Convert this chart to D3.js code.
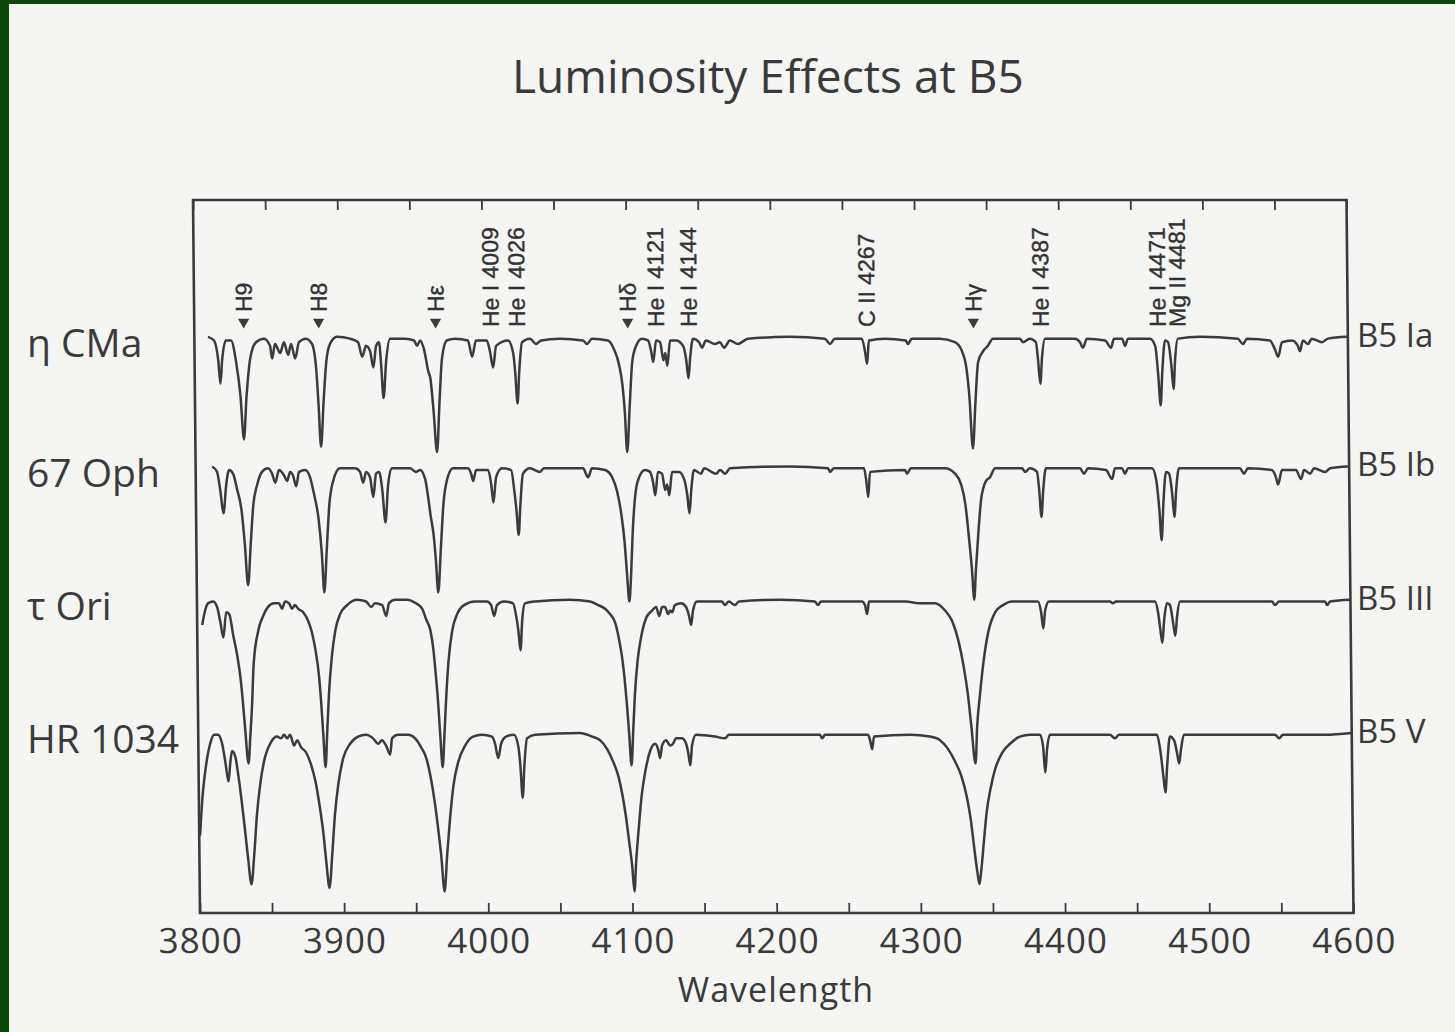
<!DOCTYPE html>
<html>
<head>
<meta charset="utf-8">
<script src="https://cdn.jsdelivr.net/npm/d3@7"></script>
<style>
  body { margin: 0; background: #0b4a0b; }
</style>
</head>
<body>
<div id="chart"></div>
<script>
// Luminosity Effects at B5 - four normalised spectra, stacked with offsets
// Each spectrum: [wavelength (A), intensity relative to continuum]

const stars = ["η CMa", "67 Oph", "τ Ori", "HR 1034"];
const classes = ["B5 Ia", "B5 Ib", "B5 III", "B5 V"];
const offsets = [2.2, 1.48, 0.74, 0];

const etaCMa = [
  [3809.4,1.00],[3813.6,0.98],[3816.4,0.87],[3817.8,0.74],[3819.1,0.87],[3821.9,0.98],[3825.4,0.98],
  [3828.8,0.86],[3831.6,0.67],[3833.7,0.43],[3835.8,0.67],[3838.6,0.88],[3842.7,0.97],[3848.3,0.99],
  [3852.4,0.95],[3853.8,0.88],[3855.9,0.96],[3859.4,0.91],[3862.1,0.97],[3864.9,0.90],[3867.0,0.96],
  [3869.8,0.88],[3872.5,0.97],[3877.4,0.99],[3881.6,0.96],[3884.3,0.82],[3885.7,0.62],[3887.1,0.39],
  [3889.2,0.64],[3891.3,0.86],[3894.0,0.96],[3898.9,1.00],[3907.9,0.99],[3913.5,0.97],[3916.3,0.89],
  [3919.0,0.95],[3921.8,0.92],[3923.9,0.83],[3926.0,0.95],[3928.0,0.97],[3929.4,0.84],[3930.8,0.66],
  [3932.9,0.87],[3935.7,0.99],[3946.1,0.99],[3952.3,0.98],[3954.4,0.95],[3956.5,0.98],[3959.2,0.93],
  [3962.0,0.81],[3963.4,0.77],[3965.4,0.59],[3967.5,0.36],[3969.6,0.64],[3971.6,0.88],[3975.1,0.98],
  [3980.7,0.99],[3989.7,0.98],[3992.5,0.89],[3995.3,0.98],[4002.8,0.98],[4004.9,0.92],[4007.0,0.83],
  [4009.2,0.95],[4017.5,0.98],[4021.0,0.91],[4022.3,0.80],[4023.7,0.63],[4025.1,0.81],[4027.2,0.97],
  [4032.7,0.99],[4036.9,0.96],[4040.4,0.98],[4053.5,0.99],[4069.5,0.98],[4072.3,0.96],[4075.7,0.99],
  [4086.8,0.98],[4091.0,0.93],[4094.5,0.84],[4096.6,0.73],[4098.0,0.59],[4099.4,0.36],[4101.5,0.62],
  [4103.5,0.86],[4106.3,0.95],[4110.4,0.99],[4114.6,0.98],[4116.7,0.92],[4118.1,0.86],[4120.2,0.98],
  [4123.0,0.97],[4125.1,0.87],[4126.5,0.91],[4127.8,0.84],[4129.9,0.98],[4134.1,0.98],[4138.9,0.95],
  [4141.0,0.87],[4142.4,0.77],[4143.8,0.89],[4145.8,0.99],[4150.0,0.97],[4152.0,0.94],[4154.8,0.98],
  [4161.0,0.96],[4164.5,0.97],[4167.3,0.94],[4171.4,0.98],[4177.0,0.96],[4183.9,0.99],[4213.0,1.00],
  [4237.3,0.99],[4240.8,0.96],[4244.2,0.99],[4262.9,0.99],[4265.0,0.92],[4266.4,0.85],[4267.8,0.98],
  [4278.9,0.99],[4293.4,0.98],[4294.8,0.96],[4297.6,0.99],[4317.0,0.99],[4327.4,0.97],[4332.3,0.92],
  [4335.0,0.84],[4337.1,0.67],[4339.2,0.38],[4341.3,0.64],[4343.4,0.86],[4346.9,0.92],[4350.3,0.95],
  [4353.8,0.99],[4372.5,0.99],[4374.6,0.97],[4379.4,0.99],[4383.6,0.97],[4385.0,0.87],[4386.4,0.74],
  [4387.8,0.89],[4389.9,0.99],[4410.7,0.99],[4414.2,0.97],[4416.2,0.94],[4419.0,0.99],[4431.6,0.98],
  [4435.7,0.94],[4437.8,0.99],[4443.4,0.99],[4445.4,0.95],[4447.5,0.99],[4462.8,0.99],[4466.3,0.95],
  [4468.3,0.78],[4469.7,0.62],[4471.1,0.81],[4473.2,0.98],[4475.3,0.97],[4477.4,0.84],[4478.8,0.71],
  [4480.0,0.87],[4482.1,0.99],[4497.4,1.00],[4523.7,0.99],[4527.2,0.96],[4530.0,0.99],[4545.9,0.98],
  [4549.4,0.93],[4551.5,0.89],[4554.3,0.97],[4561.2,0.98],[4565.3,0.95],[4566.7,0.92],[4568.8,0.98],
  [4572.3,0.96],[4575.0,0.99],[4582.0,0.97],[4586.1,0.99],[4599.3,1.00]
];

const oph67 = [
  [3811.4,1.00],[3814.8,0.97],[3816.9,0.87],[3819.0,0.74],[3821.1,0.90],[3823.2,0.98],[3825.9,0.96],
  [3828.7,0.87],[3831.5,0.76],[3833.6,0.57],[3835.6,0.34],[3837.7,0.57],[3839.8,0.79],[3842.6,0.90],
  [3846.0,0.97],[3850.2,0.99],[3853.0,0.96],[3855.1,0.91],[3857.8,0.98],[3861.3,0.95],[3863.4,0.92],
  [3865.5,0.97],[3867.5,0.95],[3869.6,0.89],[3871.7,0.97],[3875.9,0.98],[3879.3,0.94],[3882.1,0.84],
  [3884.9,0.71],[3887.0,0.51],[3888.4,0.30],[3890.4,0.54],[3892.5,0.79],[3895.3,0.92],[3900.1,0.99],
  [3910.5,0.99],[3914.0,0.97],[3916.1,0.91],[3918.2,0.97],[3920.9,0.94],[3923.0,0.83],[3925.1,0.96],
  [3927.2,0.97],[3929.3,0.87],[3931.3,0.69],[3933.4,0.90],[3936.2,0.99],[3948.7,0.99],[3952.8,0.97],
  [3955.6,0.98],[3959.1,0.93],[3961.2,0.82],[3962.6,0.73],[3964.6,0.62],[3966.0,0.48],[3967.4,0.30],
  [3969.5,0.54],[3971.6,0.79],[3974.4,0.93],[3978.5,0.99],[3988.9,0.99],[3991.0,0.96],[3992.4,0.92],
  [3994.5,0.98],[4002.8,0.98],[4004.9,0.90],[4006.3,0.80],[4008.3,0.94],[4012.5,0.99],[4018.8,0.98],
  [4020.8,0.87],[4022.2,0.76],[4023.6,0.62],[4025.0,0.79],[4027.0,0.96],[4031.9,0.99],[4038.8,0.97],
  [4041.6,0.99],[4068.7,0.99],[4072.1,0.94],[4074.9,0.99],[4083.9,0.98],[4088.8,0.94],[4092.2,0.86],
  [4095.0,0.73],[4097.1,0.57],[4098.5,0.40],[4099.9,0.25],[4101.3,0.40],[4102.6,0.62],[4104.7,0.84],
  [4107.5,0.94],[4111.7,0.98],[4115.1,0.97],[4117.2,0.91],[4118.6,0.84],[4120.6,0.97],[4123.4,0.96],
  [4125.5,0.87],[4126.9,0.90],[4128.3,0.84],[4130.4,0.97],[4135.2,0.97],[4138.7,0.93],[4140.8,0.84],
  [4142.2,0.74],[4143.6,0.87],[4145.6,0.98],[4150.5,0.96],[4152.6,0.99],[4160.9,0.96],[4163.7,0.98],
  [4167.2,0.96],[4170.6,0.99],[4212.2,1.00],[4238.5,0.99],[4240.0,0.97],[4242.7,0.99],[4263.5,0.99],
  [4264.9,0.93],[4266.3,0.83],[4267.7,0.97],[4292.0,0.98],[4293.3,0.96],[4296.1,0.99],[4319.7,0.99],
  [4326.6,0.96],[4330.8,0.90],[4333.6,0.79],[4335.7,0.62],[4337.7,0.43],[4339.1,0.26],[4340.5,0.43],
  [4342.6,0.65],[4344.6,0.82],[4348.1,0.92],[4350.9,0.94],[4354.4,0.99],[4373.1,0.99],[4375.2,0.97],
  [4378.6,0.99],[4383.5,0.97],[4384.9,0.87],[4386.3,0.72],[4387.7,0.87],[4389.7,0.99],[4413.3,0.99],
  [4416.1,0.96],[4418.9,0.99],[4431.4,0.98],[4435.5,0.93],[4437.6,0.99],[4442.5,0.99],[4444.5,0.96],
  [4446.6,0.99],[4463.3,0.99],[4466.0,0.93],[4468.1,0.76],[4469.5,0.59],[4470.9,0.79],[4473.0,0.97],
  [4475.1,0.96],[4477.2,0.84],[4478.5,0.72],[4479.9,0.87],[4482.0,0.99],[4524.3,0.99],[4527.0,0.96],
  [4529.8,0.99],[4546.4,0.98],[4549.2,0.94],[4550.6,0.90],[4553.4,0.98],[4563.1,0.98],[4566.6,0.93],
  [4568.7,0.98],[4572.9,0.96],[4575.7,0.99],[4583.3,0.97],[4586.8,0.99],[4599.3,1.00]
];

const tauOri = [
  [3803.5,0.86],[3805.6,0.94],[3807.7,0.98],[3811.2,0.99],[3813.9,0.96],[3816.0,0.88],[3818.1,0.79],
  [3820.2,0.93],[3822.3,0.92],[3825.0,0.80],[3827.8,0.68],[3829.9,0.55],[3831.3,0.42],[3832.7,0.27],
  [3834.7,0.09],[3836.1,0.24],[3837.5,0.41],[3838.9,0.64],[3842.4,0.83],[3845.8,0.91],[3849.3,0.96],
  [3853.5,0.98],[3856.9,0.98],[3859.0,0.95],[3861.1,0.99],[3863.9,0.98],[3865.9,0.95],[3868.0,0.97],
  [3870.1,0.95],[3873.6,0.93],[3877.1,0.88],[3879.8,0.81],[3881.9,0.72],[3884.0,0.59],[3885.4,0.44],
  [3886.8,0.24],[3888.1,0.07],[3889.5,0.27],[3890.9,0.47],[3893.0,0.67],[3895.8,0.83],[3899.2,0.92],
  [3904.1,0.97],[3911.1,1.00],[3917.3,0.99],[3920.8,0.96],[3923.5,0.98],[3928.4,0.97],[3931.2,0.91],
  [3933.2,0.98],[3937.4,1.00],[3945.7,1.00],[3951.9,0.98],[3956.1,0.95],[3958.9,0.89],[3961.7,0.83],
  [3963.7,0.72],[3965.1,0.59],[3966.5,0.44],[3967.9,0.24],[3969.3,0.07],[3970.7,0.24],[3972.1,0.44],
  [3974.1,0.66],[3976.9,0.83],[3980.4,0.92],[3985.2,0.97],[3992.9,0.99],[4001.2,0.99],[4004.0,0.97],
  [4006.0,0.91],[4008.1,0.97],[4012.9,0.99],[4019.2,0.98],[4021.3,0.91],[4022.7,0.83],[4024.1,0.72],
  [4025.4,0.88],[4027.5,0.98],[4034.5,0.99],[4058.7,1.00],[4072.6,0.99],[4078.2,0.97],[4083.0,0.95],
  [4086.5,0.92],[4090.0,0.87],[4092.7,0.77],[4094.8,0.66],[4096.2,0.55],[4097.6,0.41],[4099.0,0.24],
  [4100.3,0.08],[4101.7,0.27],[4103.1,0.47],[4105.2,0.66],[4108.0,0.80],[4111.5,0.90],[4115.6,0.94],
  [4118.4,0.96],[4120.5,0.91],[4122.6,0.96],[4124.6,0.96],[4126.7,0.92],[4128.1,0.94],[4129.5,0.93],
  [4131.5,0.97],[4135.7,0.98],[4139.2,0.96],[4141.2,0.91],[4142.6,0.86],[4144.0,0.94],[4146.8,0.99],
  [4164.1,0.99],[4166.2,0.97],[4168.9,0.99],[4173.1,0.97],[4175.9,0.99],[4204.3,1.00],[4228.6,0.99],
  [4230.7,0.97],[4232.8,0.99],[4261.2,0.99],[4263.3,0.97],[4264.7,0.92],[4266.1,0.99],[4291.1,0.99],
  [4302.2,0.98],[4311.9,0.98],[4318.8,0.94],[4323.7,0.88],[4327.9,0.77],[4331.3,0.63],[4334.1,0.47],
  [4336.2,0.30],[4338.9,0.09],[4340.3,0.30],[4342.4,0.47],[4345.2,0.66],[4348.6,0.82],[4353.5,0.93],
  [4359.0,0.97],[4365.3,0.99],[4383.3,0.99],[4385.4,0.93],[4386.8,0.84],[4388.2,0.94],[4390.9,0.99],
  [4433.2,0.99],[4435.3,0.98],[4437.4,0.99],[4464.4,0.99],[4466.5,0.93],[4467.9,0.84],[4469.3,0.76],
  [4470.6,0.88],[4472.7,0.98],[4474.8,0.97],[4476.9,0.87],[4478.3,0.80],[4479.7,0.91],[4481.8,0.99],
  [4506.1,0.99],[4545.6,0.99],[4547.7,0.97],[4550.5,0.99],[4582.4,0.99],[4583.8,0.97],[4585.9,0.99],
  [4599.8,1.00]
];

const hr1034 = [
  [3800.6,0.43],[3802.6,0.65],[3805.4,0.83],[3808.2,0.94],[3811.0,0.99],[3813.7,0.99],[3816.5,0.94],
  [3818.6,0.84],[3820.7,0.73],[3822.1,0.84],[3823.4,0.90],[3825.5,0.87],[3827.6,0.76],[3829.7,0.62],
  [3831.8,0.46],[3833.8,0.30],[3835.9,0.16],[3838.0,0.32],[3840.1,0.54],[3842.9,0.73],[3846.3,0.87],
  [3850.5,0.95],[3854.6,0.98],[3857.4,0.97],[3859.5,0.99],[3861.6,0.97],[3863.7,0.99],[3866.4,0.93],
  [3868.5,0.96],[3871.3,0.92],[3874.8,0.89],[3878.2,0.82],[3881.0,0.73],[3883.8,0.59],[3885.9,0.46],
  [3887.9,0.29],[3890.0,0.14],[3892.1,0.32],[3894.2,0.54],[3896.9,0.72],[3900.4,0.86],[3905.3,0.94],
  [3910.8,0.98],[3916.4,0.99],[3921.2,0.97],[3924.7,0.94],[3927.4,0.96],[3930.2,0.93],[3933.0,0.88],
  [3934.4,0.97],[3938.6,0.99],[3945.5,0.99],[3950.4,0.97],[3954.5,0.92],[3958.0,0.86],[3960.8,0.76],
  [3963.5,0.62],[3965.6,0.48],[3967.7,0.32],[3969.8,0.12],[3971.8,0.32],[3973.9,0.51],[3976.7,0.71],
  [3980.2,0.84],[3985.0,0.93],[3990.6,0.98],[3996.8,0.99],[4003.7,0.98],[4005.8,0.94],[4007.9,0.86],
  [4010.0,0.94],[4013.5,0.98],[4019.0,0.99],[4021.8,0.93],[4023.2,0.82],[4024.6,0.64],[4026.0,0.82],
  [4028.0,0.97],[4033.6,0.99],[4064.8,1.00],[4073.1,0.98],[4078.6,0.96],[4083.5,0.91],[4087.6,0.84],
  [4091.1,0.76],[4093.9,0.65],[4096.0,0.54],[4098.1,0.40],[4100.1,0.26],[4101.5,0.12],[4102.9,0.29],
  [4105.0,0.48],[4107.1,0.65],[4109.9,0.79],[4113.3,0.90],[4116.8,0.94],[4118.8,0.91],[4120.2,0.86],
  [4121.6,0.93],[4124.4,0.96],[4127.2,0.93],[4129.2,0.94],[4131.3,0.97],[4135.5,0.97],[4138.3,0.94],
  [4139.7,0.89],[4141.1,0.82],[4142.4,0.93],[4145.2,0.99],[4158.4,0.98],[4165.3,0.97],[4168.1,0.99],
  [4189.6,0.99],[4231.2,0.99],[4232.6,0.97],[4234.7,0.99],[4264.5,0.99],[4265.9,0.96],[4267.3,0.91],
  [4268.7,0.98],[4293.6,0.99],[4307.5,0.98],[4314.4,0.96],[4320.0,0.91],[4324.8,0.84],[4329.0,0.76],
  [4332.5,0.65],[4335.2,0.52],[4337.3,0.37],[4339.4,0.23],[4340.8,0.16],[4342.2,0.24],[4344.2,0.40],
  [4346.3,0.56],[4349.1,0.69],[4352.5,0.80],[4357.4,0.89],[4363.0,0.94],[4369.9,0.98],[4376.8,0.99],
  [4383.8,0.99],[4385.8,0.93],[4387.2,0.78],[4388.6,0.91],[4390.7,0.99],[4432.3,0.99],[4435.8,0.97],
  [4438.6,0.99],[4464.9,0.99],[4467.0,0.91],[4469.1,0.76],[4470.4,0.67],[4471.8,0.82],[4473.9,0.98],
  [4476.7,0.96],[4478.7,0.89],[4480.1,0.83],[4481.5,0.91],[4483.6,0.99],[4522.5,0.99],[4546.8,0.99],
  [4549.6,0.97],[4552.3,0.99],[4581.5,0.99],[4600.0,1.00]
];

const spectra = [etaCMa, oph67, tauOri, hr1034];

// spectral line identifications: label text, label wavelength, marked with arrow
const lineLabels = ["H9", "H8", "Hε", "He I 4009", "He I 4026", "Hδ", "He I 4121", "He I 4144",
                    "C II 4267", "Hγ", "He I 4387", "He I 4471", "Mg II 4481"];
const lineWavelengths = [3834.3, 3886.3, 3967.4, 4005.5, 4023.6, 4100.6, 4120.0, 4142.8,
                         4266.2, 4340.4, 4386.9, 4468.0, 4481.8];
const lineArrows = [true, true, true, false, false, true, false, false, false, true, false, false, false];

const tickValues = d3.range(3800, 4601, 50);

// Layout
const W = 1455, H = 1032;
const frame = { left: 196.5, right: 1350, top: 200, bottom: 913 };
const ink = "#3b3b3b";
const roundFont = "'Open Sans', 'Noto Sans', sans-serif";

const svg = d3.select("#chart").append("svg")
  .attr("width", W)
  .attr("height", H);

// scanned page look: green border + paper
svg.append("rect").attr("width", W).attr("height", H).attr("fill", "#0b4a0b");
svg.append("rect").attr("x", 9).attr("y", 4).attr("width", W - 9).attr("height", H - 4).attr("fill", "#f5f5f3");

const x = d3.scaleLinear().domain([3800, 4600]).range([frame.left, frame.right]);
const y = d3.scaleLinear().domain([0, 3.96]).range([frame.bottom, frame.top]);

// the scan is slightly sheared, so the plot block leans a little
const cy = (frame.top + frame.bottom) / 2;
const plot = svg.append("g")
  .attr("transform", `translate(0,${cy}) skewX(0.56) translate(0,${-cy})`);

// Frame
plot.append("rect")
  .attr("x", frame.left).attr("y", frame.top)
  .attr("width", frame.right - frame.left)
  .attr("height", frame.bottom - frame.top)
  .attr("fill", "none")
  .attr("stroke", ink)
  .attr("stroke-width", 2.6);

// Bottom axis with inward ticks
const xAxis = plot.append("g")
  .attr("transform", `translate(0,${frame.bottom})`)
  .call(d3.axisBottom(x).tickValues(tickValues).tickSize(-10).tickPadding(15)
    .tickFormat(d => d % 100 === 0 ? d : ""));
xAxis.select(".domain").remove();
xAxis.selectAll(".tick line").attr("stroke", ink).attr("stroke-width", 1.8);
xAxis.selectAll(".tick text")
  .attr("fill", "#3a3a3a")
  .style("font-family", roundFont)
  .style("font-size", "35px")
  .style("letter-spacing", "1px");

// Top axis, ticks only
const xTop = plot.append("g")
  .attr("transform", `translate(0,${frame.top})`)
  .call(d3.axisTop(x).tickValues(tickValues).tickSize(-10).tickFormat(""));
xTop.select(".domain").remove();
xTop.selectAll(".tick line").attr("stroke", ink).attr("stroke-width", 1.8);

// Spectra
const line = d3.line()
  .x(d => x(d[0]))
  .curve(d3.curveMonotoneX);

spectra.forEach((s, i) => {
  plot.append("path")
    .datum(s)
    .attr("fill", "none")
    .attr("stroke", ink)
    .attr("stroke-width", 2.5)
    .attr("stroke-linejoin", "round")
    .attr("d", line.y(d => y(d[1] + offsets[i])));
});

// Line identifications (rotated text, arrows for Balmer lines)
const labelBase = 327;
lineLabels.forEach((t, i) => {
  const lx = x(lineWavelengths[i]);
  let start = labelBase;
  if (lineArrows[i]) {
    plot.append("path")
      .attr("d", d3.symbol(d3.symbolTriangle, 55)())
      .attr("transform", `translate(${lx},${labelBase - 5}) rotate(180)`)
      .attr("fill", ink);
    start = labelBase - 15;
  }
  plot.append("text")
    .attr("transform", `translate(${lx},${start}) rotate(-90)`)
    .attr("dy", "0.36em")
    .attr("fill", "#333")
    .attr("stroke", "#333")
    .attr("stroke-width", 0.4)
    .style("font-family", "'Liberation Sans', Arial, sans-serif")
    .style("font-size", "23px")
    .text(t);
});

// Axis title
svg.append("text")
  .attr("x", 776)
  .attr("y", 1002)
  .attr("text-anchor", "middle")
  .attr("fill", "#3a3a3a")
  .style("font-family", roundFont)
  .style("font-size", "34px")
  .style("letter-spacing", "1px")
  .text("Wavelength");

// Chart title
svg.append("text")
  .attr("x", 768)
  .attr("y", 93)
  .attr("text-anchor", "middle")
  .attr("fill", "#3a3a3a")
  .style("font-family", roundFont)
  .style("font-size", "46px")
  .text("Luminosity Effects at B5");

// Star names (left) and classes (right)
stars.forEach((name, i) => {
  svg.append("text")
    .attr("x", 27)
    .attr("y", y(1 + offsets[i]) + 6)
    .attr("dy", "0.36em")
    .attr("fill", "#3a3a3a")
    .style("font-family", roundFont)
    .style("font-size", "39px")
    .text(name);
});

classes.forEach((c, i) => {
  svg.append("text")
    .attr("x", 1357)
    .attr("y", y(1 + offsets[i]) - 2)
    .attr("dy", "0.36em")
    .attr("fill", "#3a3a3a")
    .style("font-family", roundFont)
    .style("font-size", "33px")
    .text(c);
});
</script>
</body>
</html>
